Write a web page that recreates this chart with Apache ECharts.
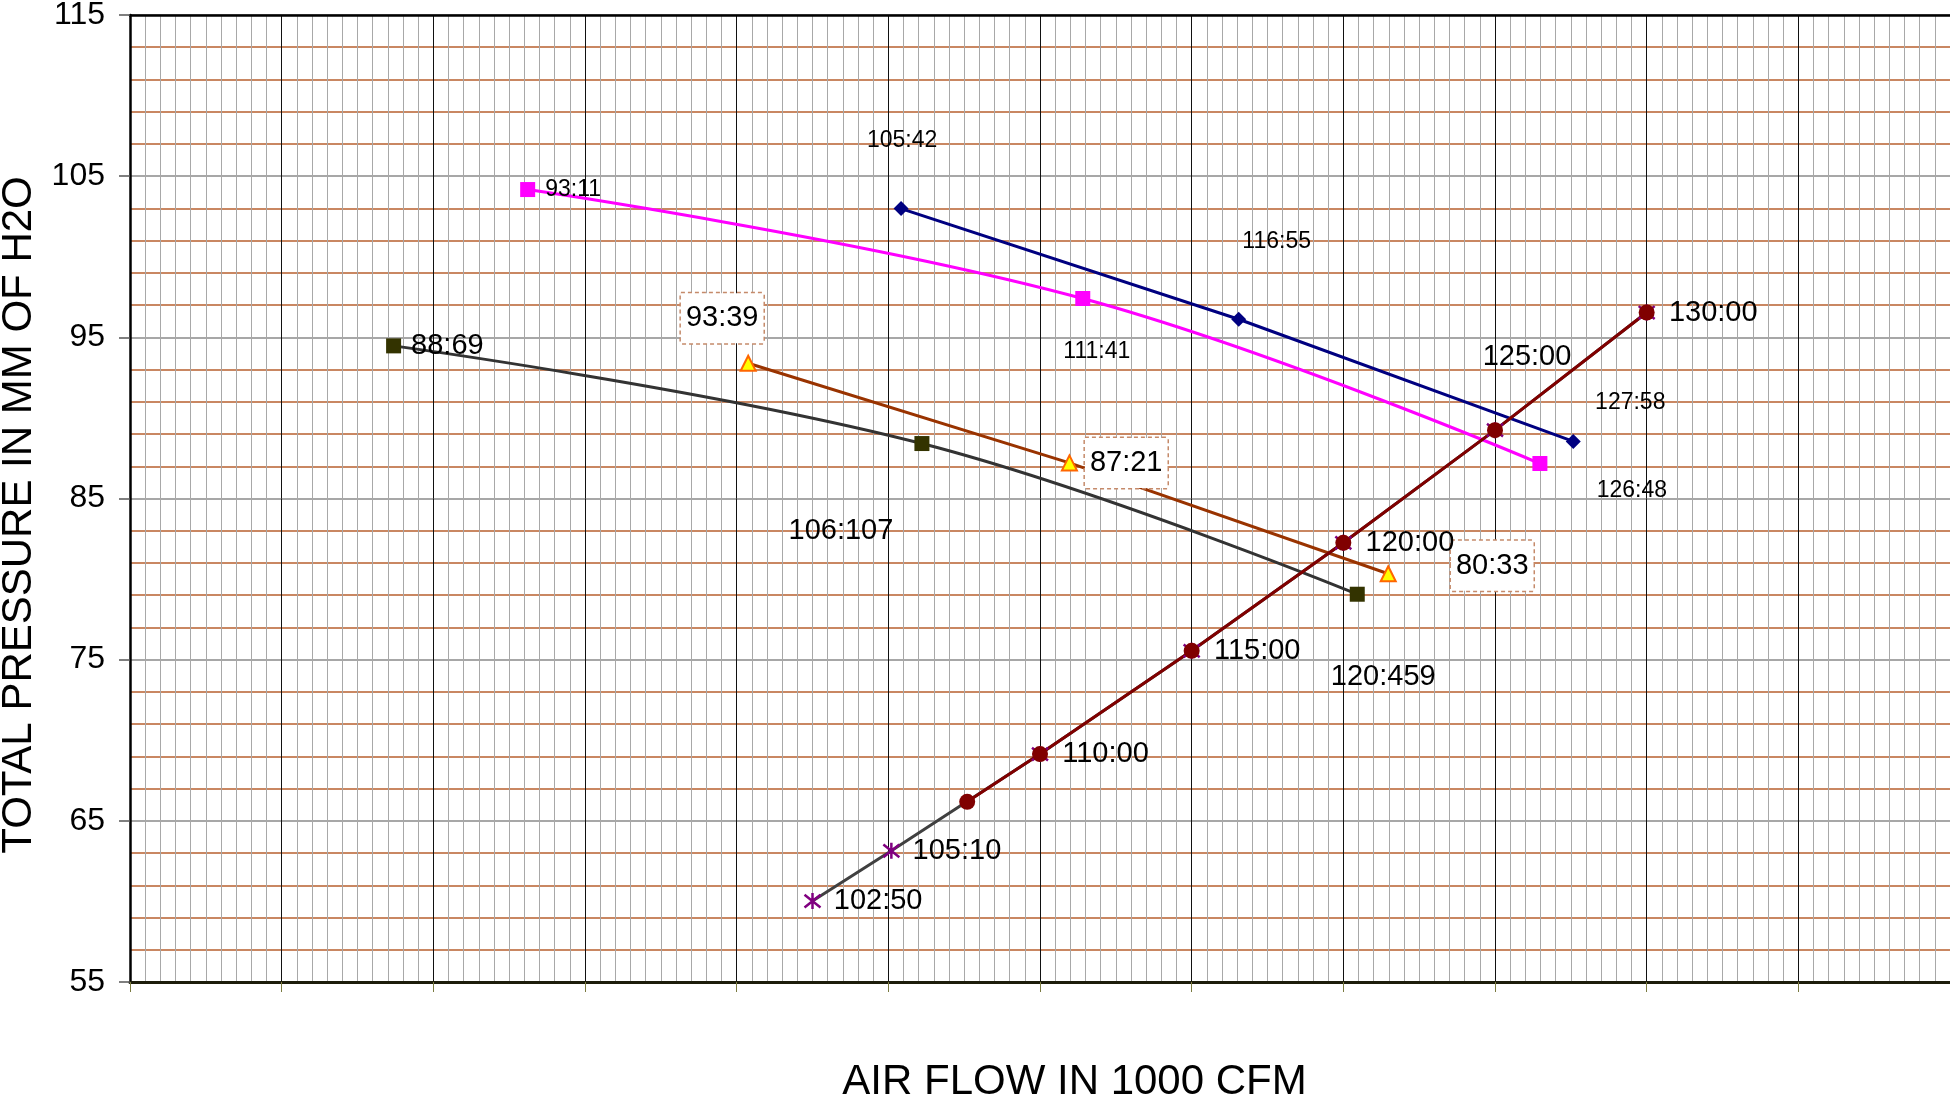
<!DOCTYPE html>
<html>
<head>
<meta charset="utf-8">
<title>Fan curves</title>
<script src="https://cdn.jsdelivr.net/npm/echarts@6/dist/echarts.min.js"></script>
<style>
  html, body { margin: 0; padding: 0; background: #fff; }
  #chart { width: 1950px; height: 1100px; }
</style>
</head>
<body>
<div id="chart"></div>
<script>
// Fan curve A (navy diamonds)
const navyX = [105.42, 116.55, 127.58];
const navyY = [102.99, 96.12, 88.54];
const navyLabels = ['105:42', '116:55', '127:58'];

// Fan curve B (magenta squares)
const magentaX = [93.11, 111.41, 126.48];
const magentaY = [104.17, 97.41, 87.17];
const magentaLabels = ['93:11', '111:41', '126:48'];

// Fan curve C (yellow triangles)
const triX = [100.38, 110.97, 121.48];
const triY = [93.39, 87.21, 80.33];
const triLabels = ['93:39', '87:21', '80:33'];

// Fan curve D (dark olive squares)
const oliveX = [88.69, 106.107, 120.459];
const oliveY = [94.47, 88.41, 79.06];
const oliveLabels = ['88:69', '106:107', '120:459'];

// Operating points along the resistance curve (purple asterisks)
const curveX = [102.5, 105.1, 110, 115, 120, 125, 130];
const curveY = [60.02, 63.14, 69.14, 75.55, 82.25, 89.24, 96.54];
const curveLabels = ['102:50', '105:10', '110:00', '115:00', '120:00', '125:00', '130:00'];

// System resistance curve (dark red circles)
const systemX = [107.6, 110, 115, 120, 125, 130];
const systemY = [66.18, 69.14, 75.55, 82.25, 89.24, 96.54];

// Y axis ticks
const yMin = 55, yMax = 115, yStep = 10;
// X axis range (1000 CFM)
const xMin = 80, xMax = 140, xStep = 5;

const FONT = "'Liberation Sans', Arial, sans-serif";

// label placement per point: {pos:'right', dist} or {off:[dx,dy]}
const navyPlace = [{ off: [1, -68] }, { off: [38, -78] }, { off: [57, -39] }];
const magentaPlace = [{ pos: 'right', dist: 10 }, { off: [14, 53] }, { off: [92, 27] }];
const triPlace = [{ off: [-26, -45] }, { pos: 'right', dist: 7 }, { off: [104, -8] }];
const olivePlace = [{ pos: 'right', dist: 10 }, { off: [-81, 87] }, { off: [26, 83] }];
const curvePlace = [
  { pos: 'right', dist: 12 }, { pos: 'right', dist: 12 }, { pos: 'right', dist: 13 },
  { pos: 'right', dist: 13 }, { pos: 'right', dist: 13 }, { off: [32, -73] },
  { pos: 'right', dist: 13 }
];

function labelFor(place, text, size, boxed) {
  const l = {
    show: true,
    formatter: text,
    fontSize: size,
    fontFamily: FONT,
    color: '#000'
  };
  if (place.pos) {
    l.position = place.pos;
    l.distance = place.dist;
  } else {
    l.position = 'inside';
    l.offset = place.off;
  }
  if (boxed) {
    l.backgroundColor = '#fff';
    l.borderColor = '#c58a6a';
    l.borderType = [4, 3];
    l.borderWidth = 1.5;
    l.padding = [8, 5, 8, 5];
    l.lineHeight = 34;
  }
  return l;
}

function points(xs, ys, labels, places, size, boxed) {
  return xs.map((x, i) => {
    const d = { value: [x, ys[i]] };
    if (labels) d.label = labelFor(places[i], labels[i], size, boxed);
    return d;
  });
}

const asterisk = 'path://M5,0 L5,10 M0,1 L10,9 M0,9 L10,1';

const chart = echarts.init(document.getElementById('chart'), null, { renderer: 'canvas' });

chart.setOption({
  animation: false,
  backgroundColor: '#fff',
  textStyle: { fontFamily: FONT },
  grid: { left: 130, right: 0, top: 15, bottom: 118, containLabel: false, outerBoundsMode: 'none' },
  xAxis: [{
    type: 'value',
    min: xMin, max: xMax, interval: xStep,
    name: 'AIR FLOW IN 1000 CFM',
    nameLocation: 'middle',
    nameGap: 79,
    nameTextStyle: { fontSize: 42, color: '#000', fontFamily: FONT, padding: [0, 0, 0, 69] },
    axisLine: { show: true, onZero: false, lineStyle: { color: '#1c1c0a', width: 3 } },
    axisTick: { show: true, length: 10, lineStyle: { color: '#7a7a40', width: 1 } },
    axisLabel: { show: false },
    splitLine: { show: true, lineStyle: { color: '#111', width: 1 } },
    minorTick: { show: false, splitNumber: 10 },
    minorSplitLine: { show: true, lineStyle: { color: '#a8a8a8', width: 1 } }
  }, {
    type: 'value', position: 'top',
    min: xMin, max: xMax,
    axisLine: { show: true, onZero: false, lineStyle: { color: '#000', width: 2.5 } },
    axisTick: { show: false }, axisLabel: { show: false }, splitLine: { show: false }
  }],
  yAxis: {
    type: 'value',
    min: yMin, max: yMax, interval: yStep,
    name: 'TOTAL PRESSURE IN MM OF H2O',
    nameLocation: 'middle',
    nameGap: 82,
    nameTextStyle: { fontSize: 42, color: '#000', fontFamily: FONT, padding: [0, 33, 0, 0] },
    axisLine: { show: true, onZero: false, lineStyle: { color: '#000', width: 2.5 } },
    axisTick: { show: true, length: 11, lineStyle: { color: '#555', width: 1.5 } },
    axisLabel: { fontSize: 32, color: '#000', margin: 25, fontFamily: FONT },
    splitLine: { show: true, lineStyle: { color: '#8a8a8a', width: 1.5 } },
    minorTick: { show: false, splitNumber: 5 },
    minorSplitLine: { show: true, lineStyle: { color: '#b8602f', width: 1.5 } }
  },
  series: [
    {
      type: 'line',
      data: points(navyX, navyY, navyLabels, navyPlace, 23, false),
      symbol: 'diamond', symbolSize: 15,
      lineStyle: { color: '#000080', width: 3 },
      itemStyle: { color: '#000080' }
    },
    {
      type: 'line',
      smooth: 0.4,
      data: points(magentaX, magentaY, magentaLabels, magentaPlace, 23, false),
      symbol: 'rect', symbolSize: 15,
      lineStyle: { color: '#ff00ff', width: 3 },
      itemStyle: { color: '#ff00ff' }
    },
    {
      type: 'line',
      data: points(triX, triY, triLabels, triPlace, 29, true),
      symbol: 'triangle', symbolSize: 15,
      lineStyle: { color: '#993300', width: 3 },
      itemStyle: { color: '#ffff00', borderColor: '#ff6600', borderWidth: 2 }
    },
    {
      type: 'line',
      smooth: 0.4,
      data: points(oliveX, oliveY, oliveLabels, olivePlace, 29, false),
      symbol: 'rect', symbolSize: 15,
      lineStyle: { color: '#333333', width: 3 },
      itemStyle: { color: '#333300' }
    },
    {
      type: 'line',
      data: points(curveX, curveY, curveLabels, curvePlace, 29, false),
      symbol: asterisk, symbolSize: 16,
      lineStyle: { color: '#404040', width: 3 },
      itemStyle: { color: '#800080', borderColor: '#800080', borderWidth: 2.5 }
    },
    {
      type: 'line',
      data: points(systemX, systemY, null, null, 0, false),
      symbol: 'circle', symbolSize: 16,
      lineStyle: { color: '#800000', width: 3 },
      itemStyle: { color: '#800000' },
      label: { show: false }
    }
  ]
});
</script>
</body>
</html>
